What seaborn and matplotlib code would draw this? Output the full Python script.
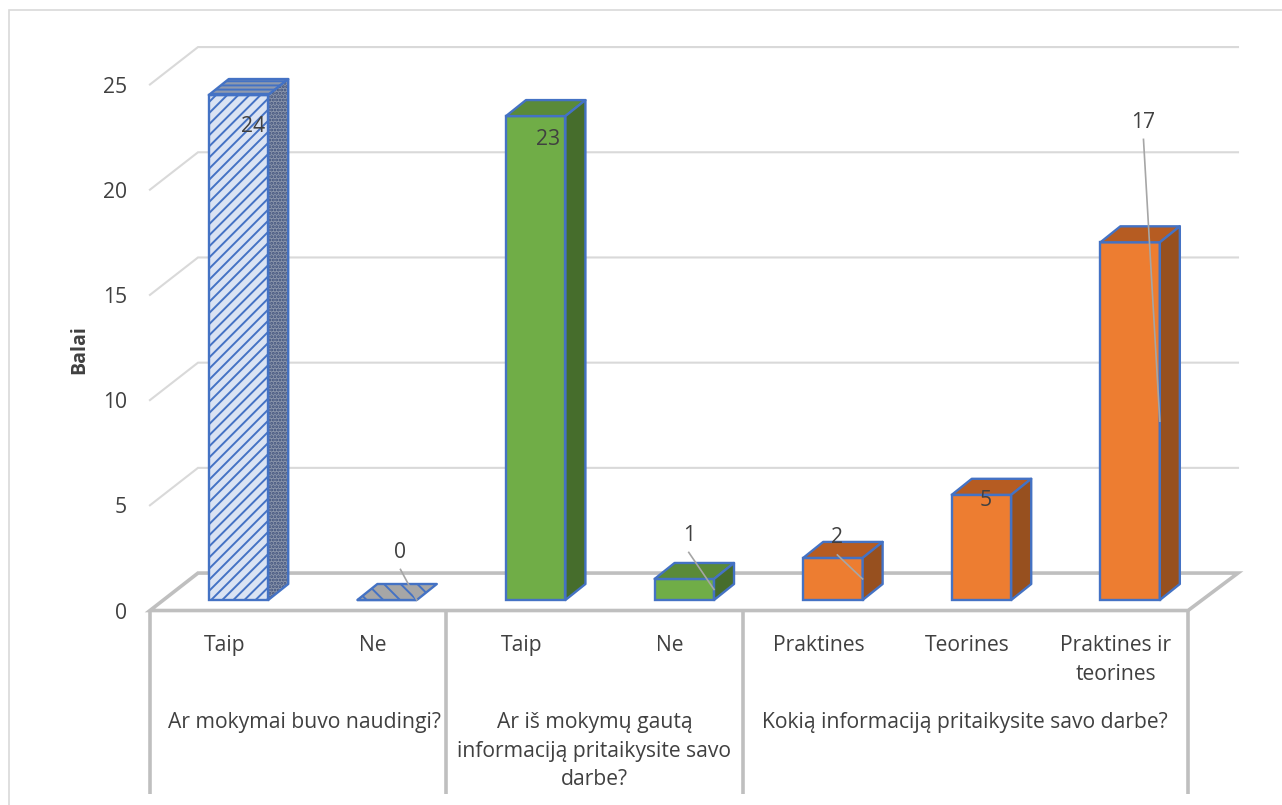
import pandas as pd
import seaborn as sns
import matplotlib.pyplot as plt
from matplotlib.patches import Polygon, Rectangle

W, H = 1282, 805
X_SCALE, Y_SCALE = 148.6, 21.04  # pixels per category / per point

categories = ["Taip", "Ne", "Taip", "Ne", "Praktines", "Teorines", "Praktines ir\nteorines"]
values = [24, 0, 23, 1, 2, 5, 17]
groups = ["a", "a", "b", "b", "c", "c", "c"]
group_titles = ["Ar mokymai buvo naudingi?",
                "Ar iš mokymų gautą\ninformaciją pritaikysite savo\ndarbe?",
                "Kokią informaciją pritaikysite savo darbe?"]
group_title_x = [0.441, 2.395, 4.89]
group_edges = [-0.596, 1.396, 3.395, 6.39]
y_ticks = [0, 5, 10, 15, 20, 25]

# where the data labels sit relative to the bar top
label_dx = [0.10, 0.09, 0.08, 0.03, 0.03, 0.03, 0.09]
label_dy = [-1.5, 2.26, -1.12, 2.07, 0.95, -0.28, 5.7]
has_leader = [False, True, False, True, True, False, True]

front_col = {"a": "#dae3f3", "b": "#70ad47", "c": "#ed7d31"}
top_col = {"a": "#8e99ad", "b": "#5a8a39", "c": "#b65c22"}
side_col = {"a": "#8a95ab", "b": "#466d2c", "c": "#97501f"}
EDGE = "#4472c4"
TEXT = "#404040"
GRID = "#d9d9d9"
FLOOR = "#bfbfbf"

plt.rcParams["font.family"] = ["Open Sans", "DejaVu Sans"]
plt.rcParams["hatch.linewidth"] = 1.4
FS = 15.2

df = pd.DataFrame({"pos": range(7), "value": values, "group": groups})

fig = plt.figure(figsize=(W / 100, H / 100), dpi=100)
ax = fig.add_axes([150 / W, 1 - 611 / H, (1238 - 150) / W, (611 - 46) / H])

sns.barplot(data=df, x="pos", y="value", hue="group", palette=front_col, dodge=False, saturation=1,
            width=0.4, legend=False, ax=ax, edgecolor=EDGE, linewidth=1.7, zorder=5)

ax.set_xlim(-0.5956, -0.5956 + 1088 / X_SCALE)
ax.set_ylim(-0.523, -0.523 + 565 / Y_SCALE)
for s in ax.spines.values():
    s.set_visible(False)

# 3d look of the chart
DX, DY = 20 / X_SCALE, 16 / Y_SCALE
back_x0, back_x1 = -0.2726, 6.726
wall_dy = 1.28

for t in y_ticks[1:]:
    ax.plot([group_edges[0], back_x0, back_x1], [t - 0.5, t + wall_dy, t + wall_dy],
            color=GRID, lw=1.5, zorder=1, clip_on=False, solid_joinstyle="miter")
ax.add_patch(Polygon([(group_edges[0], -0.5), (back_x0, wall_dy), (back_x1, wall_dy), (group_edges[3], -0.5)],
                     closed=True, fc="white", ec=FLOOR, lw=2.6, zorder=2, clip_on=False))
for xe in group_edges:
    ax.plot([xe, xe], [-0.5, -9.2], color=FLOOR, lw=2.6, zorder=2, clip_on=False, solid_capstyle="butt")

for i, (v, g) in enumerate(zip(values, groups)):
    x0, x1 = i - 0.2, i + 0.2
    if v == 0:
        top_fc, hatch_top = "#a6a6a6", "\\\\"
    else:
        top_fc, hatch_top = top_col[g], ("----" if g == "a" else None)
    ax.add_patch(Polygon([(x0, v), (x0 + DX, v + DY), (x1 + DX, v + DY), (x1, v)], closed=True,
                         fc=top_fc, ec=EDGE, lw=1.7, hatch=hatch_top, zorder=6, joinstyle="round"))
    if v > 0:
        side = [(x1, 0), (x1 + DX, DY), (x1 + DX, v + DY), (x1, v)]
        if g == "a":
            # dots darker than the outline, so two patches
            ax.add_patch(Polygon(side, closed=True, fc=side_col[g], ec="#3d4f7a", lw=0,
                                 hatch=".....", zorder=6))
            ax.add_patch(Polygon(side, closed=True, fc="none", ec=EDGE, lw=1.7, zorder=6, joinstyle="round"))
        else:
            ax.add_patch(Polygon(side, closed=True, fc=side_col[g], ec=EDGE, lw=1.7, zorder=6, joinstyle="round"))

for bar, g in zip([p for p in ax.patches if isinstance(p, Rectangle)], groups):
    if g == "a":
        bar.set_hatch("///")

# data labels
for i, v in enumerate(values):
    lx, ly = i + label_dx[i], v + label_dy[i]
    ax.text(lx, ly, str(v), ha="center", va="center", color=TEXT, fontsize=FS, zorder=9)
    if has_leader[i]:
        ax.plot([lx, i + 0.2], [ly - 17 / Y_SCALE, v / 2], color="#a6a6a6", lw=1.2, zorder=8)

# axis text, the category cells start at the left edge so labels are not under the bars
ax.set_yticks([t - 0.5 for t in y_ticks], [str(t) for t in y_ticks], color=TEXT, fontsize=FS)
ax.set_xticks([i - 0.0956 for i in range(7)], categories, color=TEXT, fontsize=FS, linespacing=1.48)
ax.tick_params(axis="y", length=0, pad=16.5)
ax.tick_params(axis="x", length=0, pad=17.5)
ax.set_xlabel("")
ax.set_ylabel("Balai", color=TEXT, fontsize=14, fontweight="bold", labelpad=10, y=0.462)

for title, tx in zip(group_titles, group_title_x):
    ax.text(tx, -5.32, title, ha="center", va="top", color=TEXT, fontsize=FS, linespacing=1.48,
            clip_on=False)

fig.patches.append(Rectangle((9 / W, -0.1), 1.2, 1.1 - 10 / H, transform=fig.transFigure,
                             fc="none", ec=GRID, lw=1.2))
fig.savefig("out.png", dpi=100)
